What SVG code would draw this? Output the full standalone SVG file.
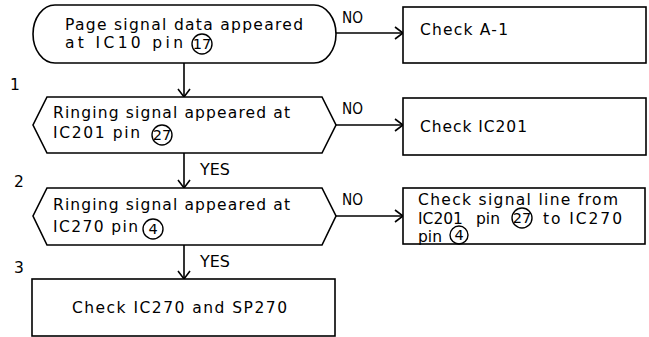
<svg xmlns="http://www.w3.org/2000/svg" width="649" height="337" viewBox="0 0 649 337">
<style>
text{font-family:"DejaVu Sans","Liberation Sans",sans-serif;font-size:15.5px;fill:#000}
.s{fill:none;stroke:#000;stroke-width:1.6}
.c{fill:none;stroke:#000;stroke-width:1.4}
.n{text-anchor:middle;font-size:14.5px}
.w{fill:#fff;stroke:#000;stroke-width:1.6}
</style>
<defs>
<marker id="ah" markerUnits="userSpaceOnUse" markerWidth="14" markerHeight="14" refX="10" refY="7" orient="auto">
<path d="M2,1 L10,7 L2,13" fill="none" stroke="#000" stroke-width="1.6"/>
</marker>
</defs>
<rect width="649" height="337" fill="#fff"/>
<g id="connectors">
<line class="s" x1="184" y1="63" x2="184" y2="97" marker-end="url(#ah)"/>
<line class="s" x1="184" y1="153" x2="184" y2="188" marker-end="url(#ah)"/>
<line class="s" x1="184" y1="245" x2="184" y2="279" marker-end="url(#ah)"/>
<line class="s" x1="336" y1="33" x2="403" y2="33" marker-end="url(#ah)"/>
<line class="s" x1="336" y1="125" x2="403" y2="125" marker-end="url(#ah)"/>
<line class="s" x1="336" y1="216" x2="403" y2="216" marker-end="url(#ah)"/>
<text x="342" y="23" textLength="21" lengthAdjust="spacingAndGlyphs">NO</text>
<text x="342" y="114" textLength="21" lengthAdjust="spacingAndGlyphs">NO</text>
<text x="342" y="205" textLength="21" lengthAdjust="spacingAndGlyphs">NO</text>
<text x="200" y="175" textLength="30" lengthAdjust="spacingAndGlyphs">YES</text>
<text x="200" y="267" textLength="30" lengthAdjust="spacingAndGlyphs">YES</text>
</g>
<g id="steps">
<text x="10" y="90">1</text>
<text x="14" y="187">2</text>
<text x="14" y="273">3</text>
</g>
<g id="start">
<path class="w" d="M55,5 H314 A22,29 0 0 1 314,63 H55 A22,29 0 0 1 55,5 Z"/>
<text x="65" y="30" textLength="238" lengthAdjust="spacing">Page signal data appeared</text>
<text x="65" y="48" textLength="118" lengthAdjust="spacing">at IC10 pin</text>
<circle class="c" cx="202" cy="44" r="10"/>
<text class="n" x="202" y="49">17</text>
</g>
<g id="check1">
<polygon class="w" points="47,97 322,97 336,125 322,153 47,153 33,125"/>
<text x="53" y="118" textLength="237" lengthAdjust="spacing">Ringing signal appeared at</text>
<text x="53" y="138" textLength="87" lengthAdjust="spacing">IC201 pin</text>
<circle class="c" cx="162" cy="135" r="10"/>
<text class="n" x="162" y="140">27</text>
</g>
<g id="check2">
<polygon class="w" points="47,188 322,188 336,216 322,245 47,245 33,216"/>
<text x="53" y="210" textLength="237" lengthAdjust="spacing">Ringing signal appeared at</text>
<text x="53" y="232" textLength="85" lengthAdjust="spacing">IC270 pin</text>
<circle class="c" cx="153" cy="229" r="10"/>
<text class="n" x="153" y="234">4</text>
</g>
<g id="boxA1">
<rect class="w" x="403" y="7" width="243" height="56"/>
<text x="420" y="35" textLength="88" lengthAdjust="spacing">Check A-1</text>
</g>
<g id="boxIC201">
<rect class="w" x="403" y="98" width="243" height="57"/>
<text x="420" y="132" textLength="107" lengthAdjust="spacing">Check IC201</text>
</g>
<g id="boxLine">
<rect class="w" x="403" y="188" width="242" height="56"/>
<text x="418" y="205" textLength="200" lengthAdjust="spacing">Check signal line from</text>
<text x="418" y="224">IC201</text>
<text x="476" y="224">pin</text>
<circle class="c" cx="522" cy="218" r="10"/>
<text class="n" x="522" y="223">27</text>
<text x="543" y="224" textLength="79" lengthAdjust="spacing">to IC270</text>
<text x="418" y="242">pin</text>
<circle class="c" cx="459" cy="235" r="9"/>
<text class="n" x="459" y="240">4</text>
</g>
<g id="final">
<rect class="w" x="32" y="279" width="303" height="57"/>
<text x="72" y="313" textLength="215" lengthAdjust="spacing">Check IC270 and SP270</text>
</g>
</svg>
